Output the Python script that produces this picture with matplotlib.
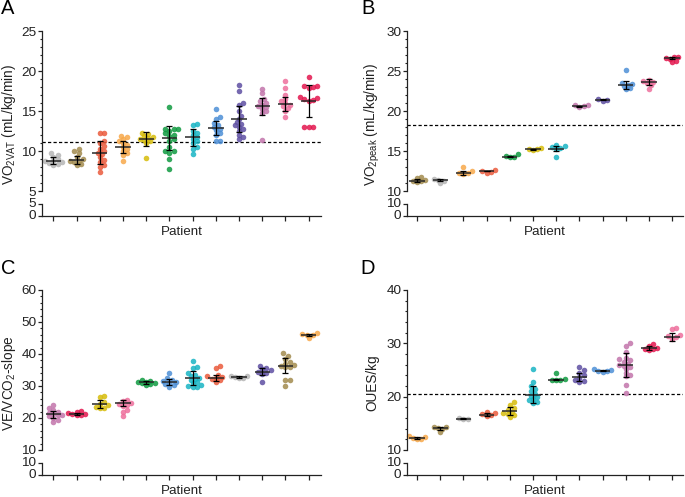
import matplotlib
matplotlib.use("Agg")
import matplotlib.pyplot as plt
from matplotlib.ticker import MultipleLocator, FixedLocator, NullLocator

plt.rcParams['font.family'] = ['Liberation Sans', 'DejaVu Sans']
plt.rcParams['mathtext.fontset'] = 'custom'
plt.rcParams['mathtext.rm'] = 'Liberation Sans'

# ---------------- colours (one per patient) ----------------
palette = {
    'grey': '#b5b5b5', 'olive': '#a28b4e', 'redorange': '#ea5a3c', 'orange': '#f7a84a',
    'yellow': '#d6bc0a', 'green': '#0f9a40', 'cyan': '#18b4c4', 'blue': '#4d8fd6',
    'purple': '#5e4fa2', 'mauve': '#c274ab', 'pink': '#ee6f9c', 'crimson': '#e3164e',
}

# ---------------- Panel A: VO2VAT ----------------
A_colors = ['grey', 'olive', 'redorange', 'orange', 'yellow', 'green', 'cyan', 'blue',
            'purple', 'mauve', 'pink', 'crimson']
A_points = [
    [9.7, 9.5, 9.3, 9.0, 8.8, 8.7, 8.6, 8.5, 8.4, 8.3],
    [10.2, 10.0, 9.7, 9.3, 9.0, 8.8, 8.7, 8.6, 8.4, 8.2],
    [12.3, 12.3, 11.3, 11.0, 10.6, 10.3, 10.0, 9.7, 9.6, 9.2, 8.9, 8.6, 8.3, 8.0, 7.4],
    [11.9, 11.7, 11.5, 11.2, 11.0, 10.8, 10.5, 10.3, 10.0, 9.8, 9.5, 8.8],
    [12.3, 12.1, 11.9, 11.7, 11.6, 11.5, 11.4, 11.2, 11.0, 9.1],
    [15.5, 12.7, 12.7, 12.7, 12.5, 12.2, 12.0, 11.9, 11.5, 11.2, 10.5, 10.0, 10.0, 9.8, 9.0, 7.8],
    [13.4, 13.2, 12.5, 12.3, 12.0, 11.8, 11.5, 11.3, 11.0, 10.5, 10.3, 9.6],
    [15.2, 14.3, 14.0, 13.5, 13.2, 13.0, 12.8, 12.6, 12.3, 12.0, 11.2, 11.2],
    [18.3, 17.5, 16.0, 15.8, 15.0, 14.4, 14.0, 13.6, 13.4, 13.2, 13.0, 12.8, 12.5, 12.0, 11.7, 11.5],
    [17.8, 17.3, 16.5, 16.2, 16.0, 15.8, 15.6, 15.5, 15.3, 15.0, 14.8, 11.4],
    [18.7, 17.9, 17.0, 16.5, 16.2, 16.0, 15.8, 15.6, 15.4, 15.0, 14.2],
    [19.2, 18.1, 18.1, 18.0, 17.9, 16.7, 16.6, 16.5, 16.4, 16.3, 13.0, 13.0, 13.0],
]
A_center = [8.8, 8.9, 9.8, 10.5, 11.5, 11.6, 11.7, 12.9, 14.0, 15.6, 15.9, 16.3]
A_sd = [0.45, 0.5, 1.4, 0.8, 0.85, 1.5, 1.1, 0.9, 1.6, 1.05, 0.9, 2.0]
A_ref = 11.1

# ---------------- Panel B: VO2peak ----------------
B_colors = ['olive', 'grey', 'orange', 'redorange', 'green', 'yellow', 'cyan', 'mauve',
            'purple', 'blue', 'pink', 'crimson']
B_points = [
    [11.8, 11.6, 11.4, 11.3, 11.2, 11.1],
    [11.5, 11.4, 11.3, 11.0],
    [13.0, 12.5, 12.3, 12.2, 12.1],
    [12.6, 12.5, 12.4, 12.3],
    [14.6, 14.4, 14.3, 14.2],
    [15.4, 15.3, 15.2, 15.1],
    [15.8, 15.6, 15.5, 15.4, 15.2, 14.3],
    [20.8, 20.7, 20.6, 20.5],
    [21.5, 21.4, 21.3],
    [25.1, 23.5, 23.4, 23.3, 23.1, 22.9, 22.7],
    [23.9, 23.8, 23.6, 23.5, 23.2, 22.8],
    [26.8, 26.7, 26.6, 26.5, 26.3, 26.1],
]
B_center = [11.3, 11.4, 12.3, 12.5, 14.3, 15.2, 15.3, 20.6, 21.4, 23.2, 23.6, 26.6]
B_sd = [0.2, 0.1, 0.25, 0.06, 0.05, 0.05, 0.3, 0.05, 0.05, 0.5, 0.35, 0.1]
B_ref = 18.2

# ---------------- Panel C: VE/VCO2-slope ----------------
C_colors = ['mauve', 'crimson', 'yellow', 'pink', 'green', 'blue', 'cyan', 'redorange',
            'grey', 'purple', 'olive', 'orange']
C_points = [
    [24.0, 23.0, 22.5, 22.0, 21.6, 21.3, 21.0, 20.8, 20.5, 20.0, 19.5, 18.9],
    [22.3, 22.0, 21.5, 21.3, 21.1, 20.9, 20.8],
    [27.0, 26.5, 25.0, 24.5, 24.0, 23.5, 23.2, 23.0],
    [25.5, 25.2, 24.8, 24.5, 24.2, 23.8, 22.5, 21.8, 20.6],
    [32.0, 31.7, 31.4, 31.2, 31.0, 30.8, 30.5, 30.2],
    [34.0, 32.5, 32.0, 31.5, 31.2, 31.0, 30.6, 30.2, 29.8],
    [37.8, 35.8, 35.5, 34.0, 33.5, 33.0, 32.5, 32.2, 31.8, 31.2, 30.8, 30.2, 29.9, 29.8, 29.7],
    [36.3, 35.5, 33.5, 33.0, 32.8, 32.5, 32.2, 31.8, 31.4],
    [33.1, 33.0, 32.8, 32.6, 32.5],
    [36.2, 35.7, 35.2, 34.9, 34.5, 34.2, 33.9, 31.2],
    [40.2, 39.5, 38.5, 37.5, 37.0, 36.6, 36.3, 36.0, 35.8, 32.0, 31.8, 30.0],
    [46.5, 46.2, 46.0, 45.8, 45.0],
]
C_center = [21.1, 21.25, 24.3, 24.6, 31.1, 31.2, 32.6, 32.6, 32.8, 34.5, 36.4, 46.0]
C_sd = [1.1, 0.45, 1.2, 0.9, 0.6, 0.9, 2.2, 0.9, 0.2, 1.0, 2.2, 0.4]

# ---------------- Panel D: OUES/kg ----------------
D_colors = ['orange', 'olive', 'grey', 'redorange', 'yellow', 'cyan', 'green', 'purple',
            'blue', 'mauve', 'crimson', 'pink']
D_points = [
    [12.6, 12.4, 12.2, 12.1, 12.0],
    [14.4, 14.3, 14.1, 13.9, 13.3],
    [16.0, 15.9, 15.8],
    [17.2, 16.9, 16.7, 16.5, 16.3],
    [19.0, 18.5, 17.8, 17.5, 17.2, 17.0, 16.8, 16.5, 16.2],
    [25.1, 22.8, 22.0, 21.5, 21.0, 20.5, 20.2, 19.9, 19.6, 19.3, 19.0, 18.8],
    [24.4, 23.3, 23.2, 23.2, 23.1],
    [25.5, 25.0, 24.5, 24.0, 23.5, 23.2, 23.0, 22.8],
    [25.1, 25.0, 24.9, 24.8, 24.7],
    [30.0, 29.5, 28.3, 27.3, 27.0, 26.8, 26.5, 26.2, 26.0, 25.8, 25.5, 25.2, 24.5, 24.0, 23.8, 22.2, 20.7],
    [29.8, 29.5, 29.2, 29.0, 28.9, 28.8],
    [32.9, 32.6, 31.5, 31.3, 31.1, 30.9],
]
D_center = [12.2, 14.1, 15.9, 16.6, 17.3, 20.4, 23.2, 23.7, 24.9, 26.0, 29.1, 31.25]
D_sd = [0.15, 0.3, 0.05, 0.3, 0.8, 1.55, 0.1, 0.8, 0.1, 2.25, 0.35, 0.75]
D_ref = 20.5

W, H = 685, 497
fig = plt.figure(figsize=(W / 100, H / 100), dpi=100)
TXT = '#222222'
TICK_FS = 9.7


def add_px(l, t, r, b):
    return fig.add_axes([l / W, 1 - b / H, (r - l) / W, (b - t) / H])


def swarm(vals, ypx, xpx, d=5.0):
    placed = []
    offs = [0.0] * len(vals)
    order = sorted(range(len(vals)), key=lambda k: vals[k])
    for k in order:
        y = vals[k] * ypx
        chosen = None
        for s in [0, 1, -1, 2, -2, 3, -3, 4, -4, 5, -5, 6, -6, 7, -7]:
            xo = s * d * 0.42
            if all((xo - px) ** 2 + (y - py) ** 2 >= (d * 0.7) ** 2 for px, py in placed):
                chosen = xo
                break
        if chosen is None:
            chosen = 0.0
        placed.append((chosen, y))
        offs[k] = chosen / xpx
    return offs


def panel(left, right, top, letter, letter_x, ylab_x, colors, points, center, sd, ylim,
          major, minor, low_top, ylabel, ref=None, xlim=(-0.49, 11.53)):
    main_b = top + 160
    ax = add_px(left, top, right, main_b)
    lo = add_px(left, main_b + 13, right, main_b + 25)
    n = len(colors)
    xpx = (right - left) / (xlim[1] - xlim[0])
    ypx = 160 / (ylim[1] - ylim[0])
    for i in range(n):
        c = palette[colors[i]]
        offs = swarm(points[i], ypx, xpx)
        xs = [i + o for o in offs]
        ax.scatter(xs, points[i], s=16, color=c, alpha=0.85, linewidths=0, zorder=2,
                   clip_on=False)
        ax.hlines(center[i], i - 0.33, i + 0.33, color='#2a2a2a', lw=1.3, alpha=0.85, zorder=3)
        ax.errorbar(i, center[i], yerr=sd[i], fmt='none', ecolor='black', elinewidth=0.9,
                    capsize=2.3, capthick=0.9, zorder=4)
    if ref is not None:
        ax.axhline(ref, color='black', lw=0.9, dashes=(2.6, 1.8), zorder=1)
    for a in (ax, lo):
        a.set_xlim(*xlim)
        a.patch.set_visible(False)
        for s in ('top', 'right'):
            a.spines[s].set_visible(False)
        a.spines['left'].set_color(TXT)
        a.spines['left'].set_linewidth(0.9)
        a.tick_params(axis='y', colors=TXT, labelsize=TICK_FS, length=3, width=0.9, pad=1,
                      labelcolor=TXT)
    ax.spines['bottom'].set_visible(False)
    ax.set_ylim(*ylim)
    ax.yaxis.set_major_locator(MultipleLocator(major))
    ax.yaxis.set_minor_locator(MultipleLocator(minor))
    ax.tick_params(axis='y', which='minor', length=1.8, width=0.8, colors=TXT)
    ax.set_xticks([])
    lo.set_ylim(0, low_top)
    lo.yaxis.set_major_locator(FixedLocator([0, low_top]))
    lo.yaxis.set_minor_locator(NullLocator())
    lo.spines['bottom'].set_color(TXT)
    lo.spines['bottom'].set_linewidth(0.9)
    lo.set_xticks(range(n))
    lo.set_xticklabels([])
    lo.tick_params(axis='x', length=3.5, width=0.9, colors=TXT)
    lo.set_yticklabels([str(0), str(low_top)], fontsize=TICK_FS, color=TXT)
    for lab in lo.get_yticklabels():
        lab.set_verticalalignment('center')
    cx = (left + right) / 2
    fig.text(cx / W, 1 - (main_b + 41) / H, 'Patient', ha='center', va='center',
             fontsize=9.6, color=TXT)
    fig.text(ylab_x / W, 1 - (top + 93) / H, ylabel, rotation=90, ha='center',
             va='center', fontsize=9.8, color=TXT)
    fig.text(letter_x / W, 1 - (top - 22) / H, letter,
             ha='left', va='center', fontsize=14.5, color='black')


panel(42, 321, 31, 'A', 1, 9.5, A_colors, A_points, A_center, A_sd, (5, 25), 5, 1, 5,
      r'VO$_{\mathregular{2VAT}}$ (mL/kg/min)', ref=A_ref)
panel(407, 683, 31, 'B', 361, 372, B_colors, B_points, B_center, B_sd, (10, 30), 5, 1, 10,
      r'VO$_{\mathregular{2peak}}$ (mL/kg/min)', ref=B_ref, xlim=(-0.43, 11.47))
panel(42, 321, 290, 'C', 1, 9.5, C_colors, C_points, C_center, C_sd, (10, 60), 10, 2, 10,
      r'VE/VCO$_{\mathregular{2}}$-slope')
panel(407, 683, 290, 'D', 360, 372, D_colors, D_points, D_center, D_sd, (10, 40), 10, 2, 10,
      'OUES/kg', ref=D_ref, xlim=(-0.43, 11.47))

fig.savefig('out.png', dpi=100)
